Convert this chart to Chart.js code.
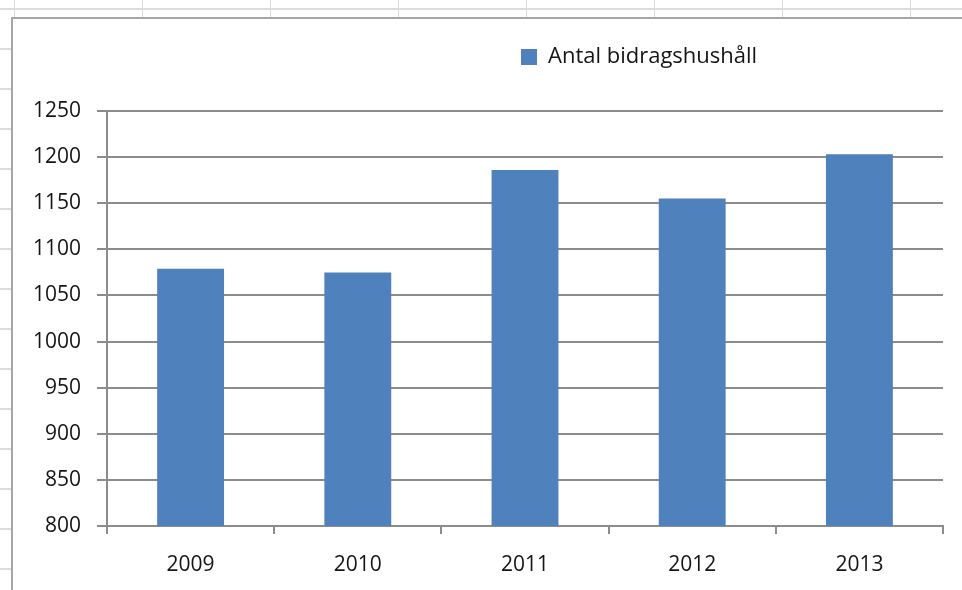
<!DOCTYPE html>
<html>
<head>
    <title>Antal bidragshushåll</title>
    <script src="https://cdn.jsdelivr.net/npm/chart.js"></script>
    <style>
        html, body { margin: 0; padding: 0; }
        body {
            width: 962px; height: 590px; overflow: hidden; position: relative;
            background-color: #fff;
            background-image:
                repeating-linear-gradient(180deg, transparent 0 8px, #dcdcdc 8px 10px, transparent 10px 40px),
                repeating-linear-gradient(90deg, transparent 0 14px, #dcdcdc 14px 15px, transparent 15px 128px);
        }
        .chart-box {
            position: absolute; left: 11px; top: 17px;
            width: 951px; height: 573px;
            border-left: 2px solid #a6a6a6; border-top: 2px solid #a6a6a6;
            background: #fff;
        }
        .chart-wrap { width: 949px; height: 571px; }
    </style>
</head>
<body>
    <div class="chart-box">
        <div class="chart-wrap"><canvas id="bidragChart"></canvas></div>
    </div>

    <script>
        const years = ['2009', '2010', '2011', '2012', '2013'];
        const hushall = [1079, 1075, 1186, 1155, 1203];
        const seriesName = 'Antal bidragshushåll';
        const yMin = 800;
        const yMax = 1250;
        const yStep = 50;

        const gridGrey = '#8c8c8c';
        const textColor = '#151515';
        const tickFont = { family: 'Open Sans', size: 21 };

        // move the legend to where Excel had it, without touching the plot area
        const legendSpot = {
            id: 'legendSpot',
            afterLayout(chart) {
                const lg = chart.legend;
                const pad = lg.options.labels.padding;
                const dx = (508 - pad) - lg.left;
                const dy = (17 - pad + 10) - lg.top;
                lg.left += dx; lg.right += dx;
                lg.top += dy; lg.bottom += dy;
            }
        };

        const ctx = document.getElementById('bidragChart').getContext('2d');
        new Chart(ctx, {
            type: 'bar',
            data: {
                labels: years,
                datasets: [{
                    label: seriesName,
                    data: hushall,
                    backgroundColor: '#4f81bd',
                    borderWidth: 0,
                    barPercentage: 0.4,
                    categoryPercentage: 1
                }]
            },
            options: {
                responsive: true,
                maintainAspectRatio: false,
                animation: false,
                layout: { padding: { top: 50, right: 19, bottom: 14, left: 0 } },
                plugins: {
                    tooltip: { enabled: false },
                    legend: {
                        position: 'top',
                        align: 'start',
                        labels: {
                            boxWidth: 16,
                            boxHeight: 16,
                            padding: 10,
                            color: textColor,
                            font: { family: 'Open Sans', size: 22 }
                        }
                    }
                },
                scales: {
                    x: {
                        offset: true,
                        grid: {
                            offset: true,
                            drawOnChartArea: false,
                            color: gridGrey,
                            lineWidth: 2,
                            tickLength: 8
                        },
                        border: { color: gridGrey, width: 2 },
                        ticks: { color: textColor, font: tickFont, padding: 18 },
                        afterFit(scale) { scale.height = 50; }
                    },
                    y: {
                        min: yMin,
                        max: yMax,
                        grid: {
                            color: gridGrey,
                            lineWidth: 2,
                            tickLength: 10
                        },
                        border: { color: gridGrey, width: 2 },
                        ticks: {
                            stepSize: yStep,
                            color: textColor,
                            font: tickFont,
                            padding: 16,
                            callback: (v) => String(v)
                        },
                        afterFit(scale) { scale.width = 94; }
                    }
                }
            },
            plugins: [legendSpot]
        });
    </script>
</body>
</html>
